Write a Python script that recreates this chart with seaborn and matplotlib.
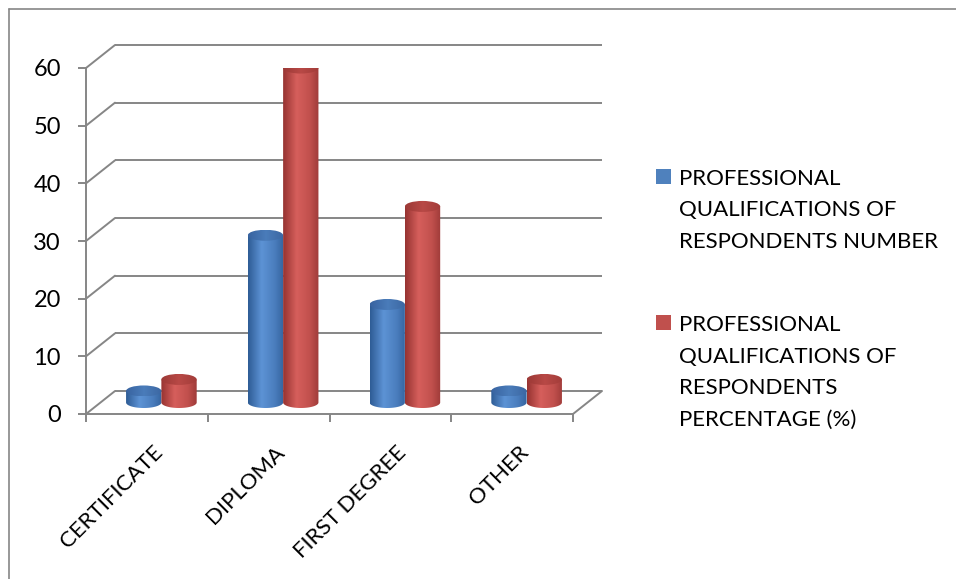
import numpy as np
import pandas as pd
import matplotlib
matplotlib.use("Agg")
import matplotlib.pyplot as plt
import seaborn as sns
from matplotlib.transforms import ScaledTranslation
from matplotlib.patches import Ellipse, PathPatch, Rectangle
from matplotlib.path import Path
from matplotlib.colors import to_rgb
from matplotlib.lines import Line2D

# ---- data -------------------------------------------------------------
categories = ["CERTIFICATE", "DIPLOMA", "FIRST DEGREE", "OTHER"]
respondents_number = [2, 29, 17, 2]
respondents_percentage = [4, 58, 34, 4]
series_names = [
    "PROFESSIONAL QUALIFICATIONS OF RESPONDENTS NUMBER",
    "PROFESSIONAL QUALIFICATIONS OF RESPONDENTS PERCENTAGE (%)",
]
legend_lines = [
    ["PROFESSIONAL", "QUALIFICATIONS OF", "RESPONDENTS NUMBER"],
    ["PROFESSIONAL", "QUALIFICATIONS OF", "RESPONDENTS", "PERCENTAGE (%)"],
]
y_ticks = [0, 10, 20, 30, 40, 50, 60]

df = pd.DataFrame({
    "category": categories * 2,
    "value": respondents_number + respondents_percentage,
    "series": [series_names[0]] * 4 + [series_names[1]] * 4,
})

# ---- style ------------------------------------------------------------
sns.set_theme(style="white")
plt.rcParams["font.family"] = ["Lato", "DejaVu Sans"]

BLUE = "#4F81BD"
RED = "#C0504D"
GRID = "#868686"
FS = 16

W, H = 956, 579
fig = plt.figure(figsize=(W / 100, H / 100), dpi=100)
fig.patch.set_facecolor("white")

# front plane of the 3-D box (pixel geometry converted to figure fractions)
left_px, right_px, bottom_px, top_px = 86, 573, 414, 68
ax = fig.add_axes([left_px / W, (H - bottom_px) / H,
                   (right_px - left_px) / W, (bottom_px - top_px) / H])
ax.set_facecolor("none")

XMIN, XMAX, YMIN, YMAX = -0.5, 3.5, 0, 60
# depth of the box expressed in data units (29 px right, 23 px up)
DX = 29 * (XMAX - XMIN) / (right_px - left_px)
DY = 23 * (YMAX - YMIN) / (bottom_px - top_px)
ELL_H = 11 * (YMAX - YMIN) / (bottom_px - top_px)

sns.barplot(data=df, x="category", y="value", hue="series",
            palette=[BLUE, RED], width=0.58, ax=ax, legend=False,
            saturation=1, zorder=2)

# ---- walls and floor --------------------------------------------------
lw = 1.4
for v in y_ticks:
    ax.plot([XMIN + DX, XMAX + DX], [v + DY, v + DY], color=GRID, lw=lw,
            zorder=0.5, clip_on=False, solid_capstyle="butt")
    ax.plot([XMIN, XMIN + DX], [v, v + DY], color=GRID, lw=lw,
            zorder=0.5, clip_on=False)
# right edge of the floor
ax.plot([XMAX, XMAX + DX], [0, DY], color=GRID, lw=lw, zorder=0.5, clip_on=False)


def gradient(stops, n=120):
    pos = [s[0] for s in stops]
    cols = np.array([to_rgb(s[1]) for s in stops])
    t = np.linspace(0, 1, n)
    img = np.stack([np.interp(t, pos, cols[:, k]) for k in range(3)], axis=-1)
    return img[np.newaxis, :, :]


body_stops = {
    BLUE: [(0, "#2E5C95"), (0.38, "#5D93D5"), (0.75, "#4A7DBD"), (1, "#35649F")],
    RED: [(0, "#963331"), (0.38, "#D65F5C"), (0.75, "#C1504D"), (1, "#9F3B39")],
}
cap_stops = {
    BLUE: [(0, "#3863A0"), (0.5, "#4A7CBA"), (1, "#3C67A2")],
    RED: [(0, "#9C3936"), (0.5, "#B84946"), (1, "#A23C39")],
}

# ---- turn each bar into a cylinder ------------------------------------
for container, color in zip(ax.containers, [BLUE, RED]):
    for bar in container:
        x0 = bar.get_x() + DX / 2
        w = bar.get_width()
        h = bar.get_height()
        x1 = x0 + w
        xc = x0 + w / 2
        yb = DY / 2
        yt = yb + h
        bar.set_x(x0)
        bar.set_y(yb)
        bar.set_alpha(0)

        a, b = w / 2, ELL_H / 2
        t = np.linspace(np.pi, 2 * np.pi, 60)
        verts = [(x0, yt), (x0, yb)] + list(zip(xc + a * np.cos(t), yb + b * np.sin(t))) \
            + [(x1, yt), (x0, yt)]
        codes = [Path.MOVETO] + [Path.LINETO] * (len(verts) - 2) + [Path.CLOSEPOLY]
        body = PathPatch(Path(verts, codes), facecolor="none", edgecolor="none",
                         transform=ax.transData)
        ax.add_patch(body)
        im = ax.imshow(gradient(body_stops[color]), extent=(x0, x1, yb - b, yt),
                       aspect="auto", interpolation="bilinear", zorder=2.2)
        im.set_clip_path(body)

        cap = Ellipse((xc, yt), w, ELL_H, facecolor="none", edgecolor="none",
                      transform=ax.transData)
        ax.add_patch(cap)
        imc = ax.imshow(gradient(cap_stops[color]), extent=(x0, x1, yt - b, yt + b),
                        aspect="auto", interpolation="bilinear", zorder=2.4)
        imc.set_clip_path(cap)

ax.set_xlim(XMIN, XMAX)
ax.set_ylim(YMIN, YMAX)

# ---- axes -------------------------------------------------------------
for side in ["top", "right"]:
    ax.spines[side].set_visible(False)
for side in ["left", "bottom"]:
    ax.spines[side].set_color(GRID)
    ax.spines[side].set_linewidth(lw)
    ax.spines[side].set_zorder(3)

ax.set_yticks(y_ticks)
ax.set_yticklabels([str(v) for v in y_ticks], fontsize=FS + 1, color="black")
ax.tick_params(axis="y", direction="out", length=6, width=lw, color=GRID,
               pad=12, left=True)
ax.set_xticks(range(len(categories)))
ax.set_xticklabels([])
ax.tick_params(axis="x", which="major", length=0)
ax.set_xticks(np.arange(XMIN, XMAX + 0.01, 1.0), minor=True)
ax.tick_params(axis="x", which="minor", direction="out", length=6, width=lw,
               color=GRID, bottom=True)
ax.set_xlabel("")
ax.set_ylabel("")
ax.grid(False)

label_shift = ScaledTranslation(6 / 100, -28 / 100, fig.dpi_scale_trans)
for i, cat in enumerate(categories):
    ax.text(i, 0, cat, transform=ax.transData + label_shift, rotation=45,
            rotation_mode="anchor", ha="right", va="top", fontsize=FS,
            color="black", clip_on=False)

# ---- legend -----------------------------------------------------------
def fx(px):
    return px / W


def fy(py):
    return 1 - py / H


legend_tops = [169, 315]
for color, lines, top in zip([BLUE, RED], legend_lines, legend_tops):
    fig.patches.append(Rectangle((fx(656), fy(top + 15)), 15 / W, 15 / H,
                                 transform=fig.transFigure, facecolor=color,
                                 edgecolor="none"))
    for k, line in enumerate(lines):
        fig.text(fx(679), fy(top + 16 + 31.5 * k), line, fontsize=FS,
                 color="black", va="baseline", ha="left")

# ---- outer frame ------------------------------------------------------
fig.add_artist(Line2D([fx(9), fx(9)], [fy(9), 0], color=GRID, lw=1.2,
                      transform=fig.transFigure))
fig.add_artist(Line2D([fx(9), 1], [fy(9), fy(9)], color=GRID, lw=1.2,
                      transform=fig.transFigure))

fig.savefig("out.png", dpi=100)
